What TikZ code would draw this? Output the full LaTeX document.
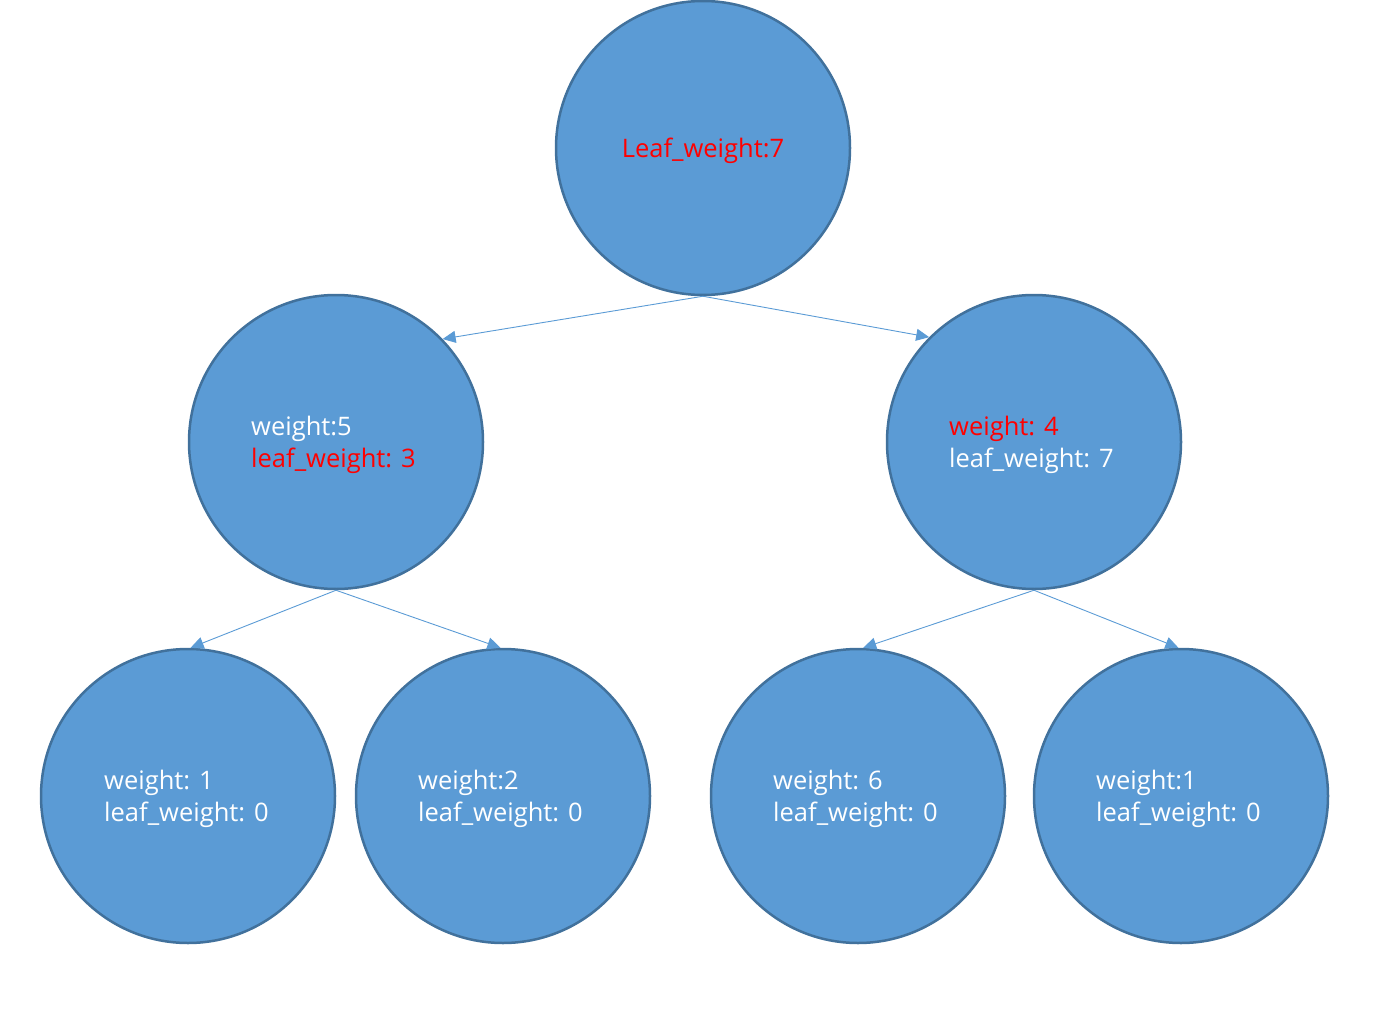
\documentclass[tikz,border=0pt]{standalone}
\usepackage{fontspec}
\setmainfont{Open Sans}
\usetikzlibrary{arrows.meta}
\definecolor{nodefill}{HTML}{5B9BD5}
\definecolor{nodeedge}{HTML}{41719C}
\definecolor{hl}{HTML}{FF0000}
\tikzset{
  tnode/.style={circle,fill=nodefill,draw=nodeedge,line width=2.5pt,minimum size=294pt,inner sep=0pt},
  tlabel/.style={anchor=west,align=left,inner sep=0pt,text=white,font=\fontsize{25.5}{32}\selectfont},
  edge/.style={draw=nodefill,line width=0.9pt,-{Triangle[length=13pt,width=12pt]}}
}
\begin{document}
\begin{tikzpicture}[x=1pt,y=-1pt]
\useasboundingbox (0,0) rectangle (1390,1019);
\node[tnode] (r) at (703,148) {};
\node[tnode] (a) at (336,442) {};
\node[tnode] (b) at (1034,442) {};
\node[tnode] (c) at (188,796) {};
\node[tnode] (d) at (503,796) {};
\node[tnode] (e) at (858,796) {};
\node[tnode] (f) at (1181,796) {};
\node[inner sep=0pt,text=hl,font=\fontsize{25.5}{32}\selectfont] (rt) at ([yshift=-3pt]r.center) {Leaf\_weight:7};
\node[tlabel] (at) at ([xshift=-85pt,yshift=-3pt]a.center) {weight:5\\\textcolor{hl}{leaf\_weight: 3}};
\node[tlabel] (bt) at ([xshift=-85pt,yshift=-3pt]b.center) {\textcolor{hl}{weight: 4}\\leaf\_weight: 7};
\node[tlabel] (ct) at ([xshift=-84pt,yshift=-3pt]c.center) {weight: 1\\leaf\_weight: 0};
\node[tlabel] (dt) at ([xshift=-85pt,yshift=-3pt]d.center) {weight:2\\leaf\_weight: 0};
\node[tlabel] (et) at ([xshift=-85pt,yshift=-3pt]e.center) {weight: 6\\leaf\_weight: 0};
\node[tlabel] (ft) at ([xshift=-85pt,yshift=-3pt]f.center) {weight:1\\leaf\_weight: 0};
\draw[edge] (r.south) -- (a.44);
\draw[edge] (r.south) -- (b.135.5);
\draw[edge] (a.south) -- (c.89);
\draw[edge] (a.south) -- (d.91);
\draw[edge] (b.south) -- (e.88.5);
\draw[edge] (b.south) -- (f.91);
\end{tikzpicture}
\end{document}
